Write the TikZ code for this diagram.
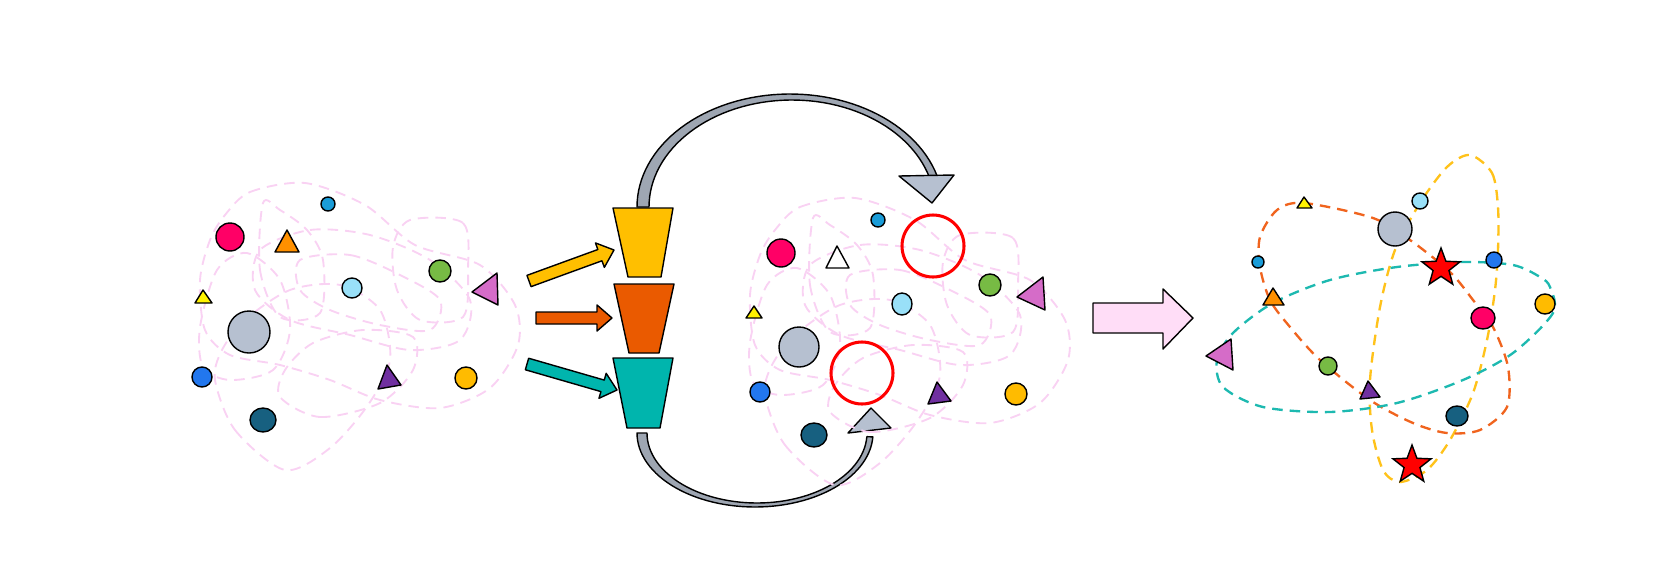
\documentclass[tikz,border=0pt]{standalone}
\usetikzlibrary{shapes.geometric}
\definecolor{cYel}{HTML}{FFBF00}
\definecolor{cOra}{HTML}{EA5A00}
\definecolor{cTea}{HTML}{00B5AD}
\definecolor{cGray}{HTML}{B6C0D0}
\definecolor{cShaft}{HTML}{9EA6B2}
\definecolor{cCrim}{HTML}{FF0066}
\definecolor{cOrT}{HTML}{FF9000}
\definecolor{cLBlue}{HTML}{99E0F8}
\definecolor{cSBlue}{HTML}{1A9CD8}
\definecolor{cBlue}{HTML}{2277EE}
\definecolor{cGreen}{HTML}{77BB44}
\definecolor{cPink}{HTML}{D56CC8}
\definecolor{cPurp}{HTML}{7030A0}
\definecolor{cYelC}{HTML}{FFBB00}
\definecolor{cDTeal}{HTML}{176080}
\definecolor{cPArrow}{HTML}{FFDDF7}
\definecolor{cScrib}{HTML}{F9D2F3}
\definecolor{cOrLine}{HTML}{F0641E}
\definecolor{cTeLine}{HTML}{1DB9B0}
\definecolor{cYeLine}{HTML}{FFC21A}
\newcommand\blockarr[5]{%
  \pgfmathsetmacro\bang{atan2(-(#4-#2),#3-#1)}%
  \pgfmathsetmacro\blen{veclen(#3-#1,#4-#2)}%
  \begin{scope}[shift={(#1,#2)},rotate=\bang]
    \draw[outl,fill=#5] (0,-6) -- (\blen-15,-6) -- (\blen-15,-13) -- (\blen,0) -- (\blen-15,13) -- (\blen-15,6) -- (0,6) -- cycle;
  \end{scope}}
\newcommand\scribbles{%
  \draw[scrib] plot[smooth cycle] coordinates {(225,215) (250,192) (305,183) (365,205) (415,245) (480,265) (515,305) (518,345) (490,388) (440,408) (380,400) (330,380) (280,365) (230,355) (205,330) (200,280) (210,240)};
  \draw[scrib] plot[smooth cycle] coordinates {(215,380) (235,430) (285,470) (330,448) (368,405) (390,360) (380,310) (340,285) (290,290) (245,320) (222,350)};
  \draw[scrib] plot[smooth cycle] coordinates {(260,250) (310,230) (370,235) (430,260) (470,300) (460,340) (410,350) (350,335) (290,320) (255,290)};
  \draw[scrib] plot[smooth cycle] coordinates {(410,220) (463,223) (468,270) (463,317) (420,320) (397,290) (393,247)};
  \draw[scrib] plot[smooth cycle] coordinates {(280,397) (320,417) (380,403) (413,370) (413,337) (363,330) (313,343) (285,370)};
  \draw[scrib] plot[smooth cycle] coordinates {(200,327) (203,367) (230,380) (273,370) (290,330) (280,280) (247,253) (217,270)};
  \draw[scrib] plot[smooth cycle] coordinates {(263,203) (260,270) (280,317) (320,313) (323,260) (307,230) (280,210)};
  \draw[scrib] plot[smooth cycle] coordinates {(300,260) (350,255) (400,275) (440,300) (430,330) (380,325) (330,310) (300,290)};
}
\begin{document}
\begin{tikzpicture}[x=0.03cm,y=-0.03cm,
  outl/.style={draw=black,line width=1.2pt,line join=round},
  ball/.style={circle,draw=black,line width=1.2pt,inner sep=0pt,minimum size=#1*0.03cm},
  oval/.style 2 args={ellipse,draw=black,line width=1.2pt,inner sep=0pt,minimum width=#1*0.03cm,minimum height=#2*0.03cm},
  ring/.style={circle,draw=red,line width=2.6pt,inner sep=0pt,minimum size=62*0.03cm},
  redstar/.style={star,star points=5,star point ratio=2.4,draw=black,line width=1.2pt,fill=red,inner sep=0pt,minimum size=40*0.03cm},
  scrib/.style={draw=cScrib,line width=1.6pt,dash pattern=on 9pt off 6pt},
  orbit/.style={line width=2pt,dash pattern=on 9pt off 6pt}]
\useasboundingbox (0,0) rectangle (1672,578);

% ---------- left cluster ----------
\scribbles
\node[ball=14,fill=cSBlue] (lsb) at (328,204) {};
\node[ball=28,fill=cCrim] (lcr) at (230,237) {};
\node[ball=20,fill=cLBlue] (llb) at (352,288) {};
\node[ball=22,fill=cGreen] (lgr) at (440,271) {};
\node[ball=42,fill=cGray] (lgy) at (249,332) {};
\node[ball=20,fill=cBlue] (lbl) at (202,377) {};
\node[ball=22,fill=cYelC] (lyc) at (466,378) {};
\node[oval={26}{24},fill=cDTeal] (ldt) at (263,420) {};
\draw[outl,fill=cOrT] (287,230) -- (275,252) -- (299,252) -- cycle;
\draw[outl,fill=yellow] (203,290) -- (195,303) -- (212,303) -- cycle;
\draw[outl,fill=cPink] (472,292) -- (497,273) -- (498,305) -- cycle;
\draw[outl,fill=cPurp] (387,365) -- (378,389) -- (401,385) -- cycle;

% ---------- small arrows ----------
\blockarr{529}{281}{614}{250}{cYel}
\blockarr{536}{318}{612}{318}{cOra}
\blockarr{527}{364}{617}{390}{cTea}

% ---------- trapezoids ----------
\draw[outl,fill=cYel] (613,208) -- (673,208) -- (661,277) -- (628,277) -- cycle;
\draw[outl,fill=cOra] (614,284) -- (674,284) -- (659,353) -- (629,353) -- cycle;
\draw[outl,fill=cTea] (613,358) -- (673,358) -- (660,428) -- (627,428) -- cycle;

% ---------- curved arrows ----------
\draw[outl,fill=cShaft] plot[domain=180:16,samples=60] ({790+153*cos(\x)},{207-113*sin(\x)})
  -- plot[domain=16:180,samples=60] ({792+143*cos(\x)},{207-107*sin(\x)}) -- cycle;
\draw[outl,fill=cGray] (899,176) -- (954,175) -- (932,203) -- cycle;
\draw[outl,fill=cShaft] plot[domain=180:357,samples=60] ({755+118*cos(\x)},{433-74*sin(\x)})
  -- plot[domain=357:180,samples=60] ({757+110*cos(\x)},{433-70*sin(\x)}) -- cycle;
\draw[outl,fill=cGray] (871,408) -- (891,428) -- (848,433) -- cycle;

% ---------- middle cluster ----------
\begin{scope}[shift={(550,15)}]
\scribbles
\end{scope}
\node[ball=14,fill=cSBlue] (msb) at (878,220) {};
\node[ball=28,fill=cCrim] (mcr) at (781,253) {};
\node[oval={20}{22},fill=cLBlue] (mlb) at (902,304) {};
\node[ball=22,fill=cGreen] (mgr) at (990,285) {};
\node[ball=40,fill=cGray] (mgy) at (799,347) {};
\node[ball=20,fill=cBlue] (mbl) at (760,392) {};
\node[ball=22,fill=cYelC] (myc) at (1016,394) {};
\node[oval={26}{24},fill=cDTeal] (mdt) at (814,435) {};
\node[ring] (ring1) at (933,246) {};
\node[ring] (ring2) at (862,373) {};
\draw[outl,fill=white] (837,246) -- (826,268) -- (849,268) -- cycle;
\draw[outl,fill=yellow] (754,306) -- (746,318) -- (762,318) -- cycle;
\draw[outl,fill=cPink] (1017,297) -- (1043,277) -- (1045,310) -- cycle;
\draw[outl,fill=cPurp] (937,382) -- (928,404) -- (951,401) -- cycle;

% ---------- big pink arrow ----------
\draw[outl,fill=cPArrow] (1093,303) -- (1163,303) -- (1163,289) -- (1193,318) -- (1163,349) -- (1163,333) -- (1093,333) -- cycle;

% ---------- right cluster orbits ----------
\draw[orbit,draw=cYeLine] plot[smooth cycle] coordinates {(1470,155) (1492,173) (1498,207) (1498,250) (1495,290) (1487,340) (1473,393) (1450,440) (1427,470) (1400,482) (1383,470) (1372,430) (1370,380) (1380,307) (1395,250) (1420,203) (1447,167)};
\draw[orbit,draw=cOrLine] plot[smooth cycle] coordinates {(1304,203) (1373,218) (1410,240) (1450,272) (1473,300) (1493,327) (1508,367) (1507,407) (1480,430) (1447,433) (1413,423) (1370,400) (1320,360) (1290,327) (1270,300) (1260,267) (1260,237) (1277,210)};
\draw[orbit,draw=cTeLine] plot[smooth cycle] coordinates {(1550,287) (1553,313) (1513,353) (1463,380) (1397,403) (1330,412) (1263,407) (1223,387) (1217,360) (1233,333) (1273,303) (1330,280) (1397,267) (1463,262) (1513,265) (1540,277)};

% ---------- right cluster shapes ----------
\draw[outl,fill=yellow] (1304,197) -- (1297,208) -- (1312,208) -- cycle;
\node[ball=16,fill=cLBlue] (rlb) at (1420,201) {};
\node[ball=34,fill=cGray] (rgy) at (1395,229) {};
\node[ball=12,fill=cSBlue] (rsb) at (1258,262) {};
\node[redstar] (star1) at (1441,268) {};
\node[ball=16,fill=cBlue] (rbl) at (1494,260) {};
\draw[outl,fill=cOrT] (1273,288) -- (1263,305) -- (1284,305) -- cycle;
\node[oval={24}{22},fill=cCrim] (rcr) at (1483,318) {};
\node[ball=20,fill=cYelC] (ryc) at (1545,304) {};
\draw[outl,fill=cPink] (1206,356) -- (1231,339) -- (1233,370) -- cycle;
\node[ball=18,fill=cGreen] (rgr) at (1328,366) {};
\draw[outl,fill=cPurp] (1368,381) -- (1360,399) -- (1380,397) -- cycle;
\node[oval={22}{20},fill=cDTeal] (rdt) at (1457,416) {};
\node[redstar] (star2) at (1412,465) {};
\end{tikzpicture}
\end{document}
